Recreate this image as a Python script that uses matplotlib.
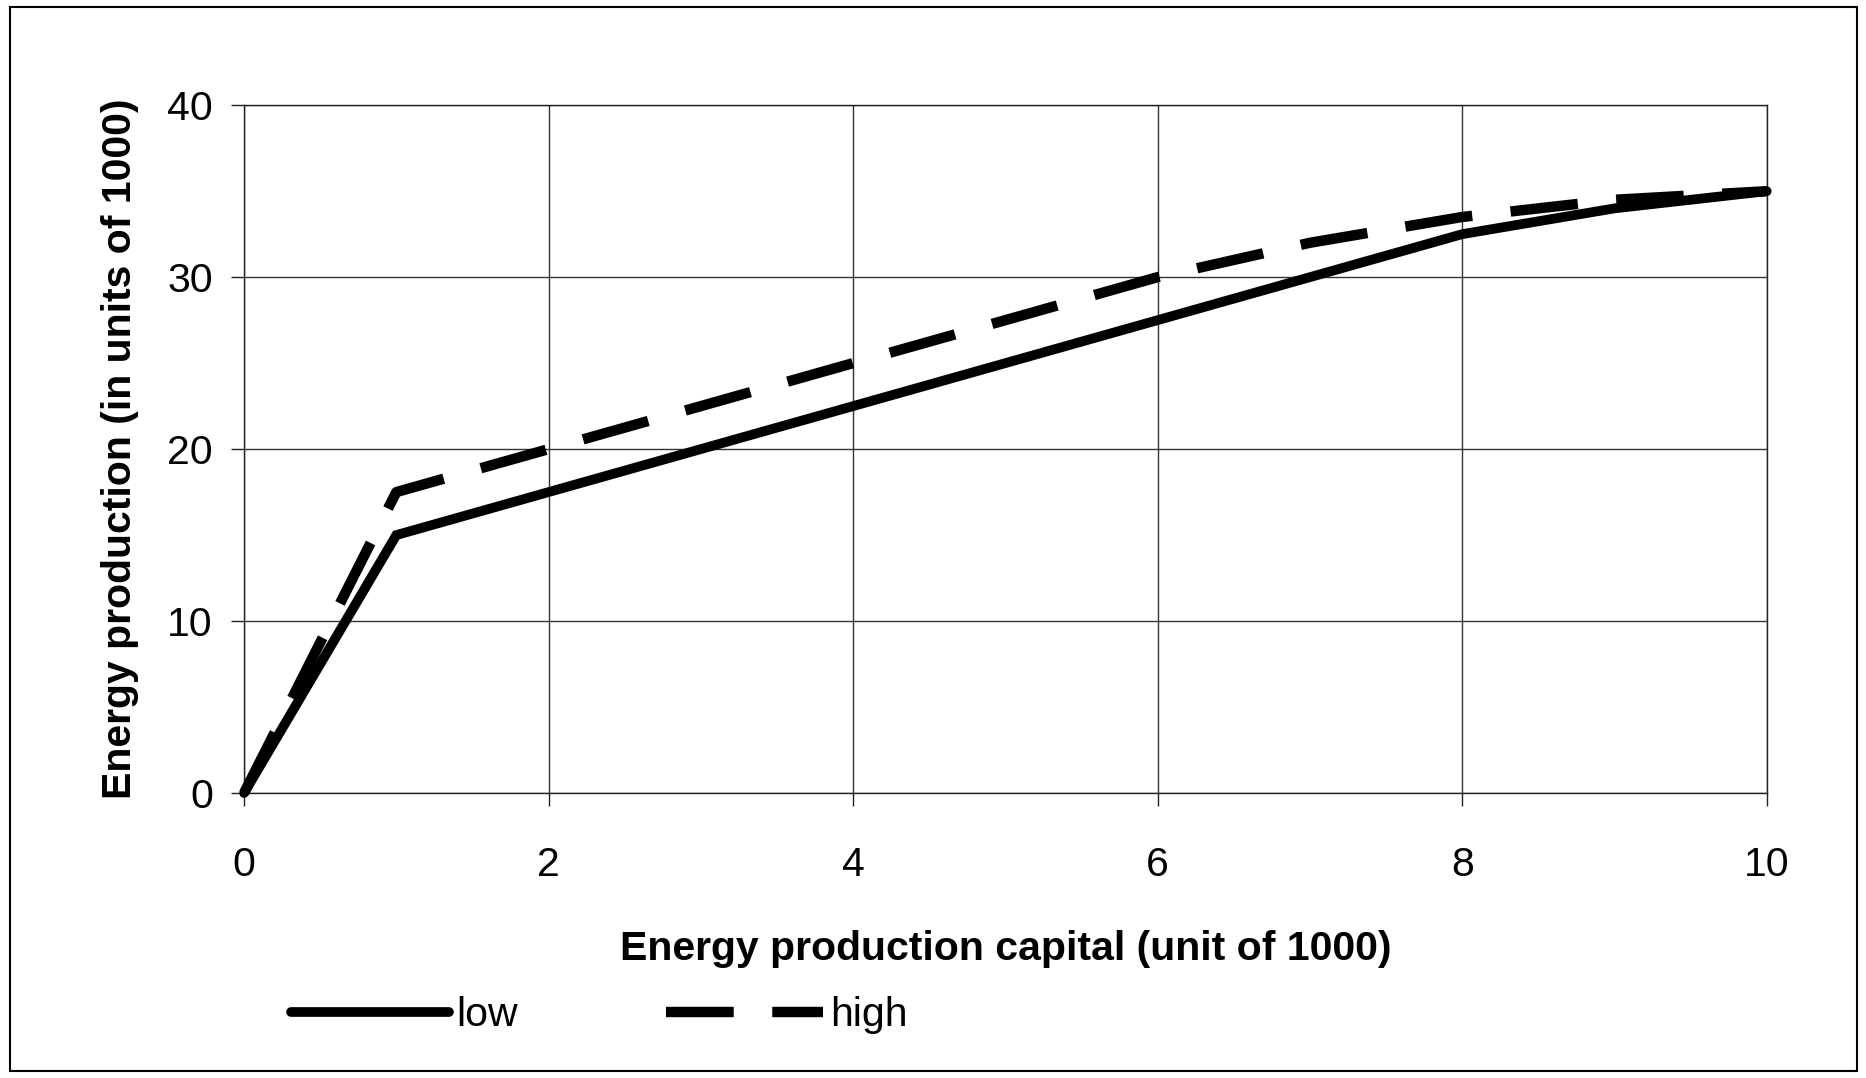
import matplotlib.pyplot as plt
from matplotlib.patches import Rectangle

plt.rcParams['font.family'] = ['Liberation Sans', 'DejaVu Sans']

capital = [0, 1, 2, 3, 4, 5, 6, 7, 8, 9, 10]
low = [0, 15, 17.5, 20, 22.5, 25, 27.5, 30, 32.5, 34, 35]
high = [0, 17.5, 20, 22.5, 25, 27.5, 30, 32, 33.5, 34.5, 35]

fig = plt.figure(figsize=(18.66, 10.78), dpi=100)
ax = fig.add_axes([0.1308, 0.2644, 0.816, 0.638])

ax.plot(capital, low, color='black', linewidth=7, solid_capstyle='round',
        solid_joinstyle='miter', label='low', clip_on=False, zorder=3)
ax.plot(capital, high, color='black', linewidth=7.5, dashes=(6.5, 3.7),
        dash_capstyle='butt', label='high', clip_on=False, zorder=3)

ax.set_xlim(0, 10)
ax.set_ylim(0, 40)
ax.set_xticks(range(0, 11, 2))
ax.set_yticks(range(0, 41, 10))
ax.grid(True, color='#333333', linewidth=1.0)
ax.set_axisbelow(True)
for s in ax.spines.values():
    s.set_linewidth(1.0)
    s.set_color('#222222')
ax.tick_params(axis='both', labelsize=29.5, length=9.5, width=1, color='#222222')
ax.tick_params(axis='x', pad=29)
ax.tick_params(axis='y', pad=13)

ax.set_xlabel('Energy production capital (unit of 1000)', fontsize=29.5,
              fontweight='bold', labelpad=33)
ax.set_ylabel('Energy production (in units of 1000)', fontsize=29.5,
              fontweight='bold', labelpad=20)

fig.legend(loc='center left', bbox_to_anchor=(0.156, 0.058), ncol=2,
           frameon=False, fontsize=29.5, handlelength=3.85, handletextpad=0.17,
           columnspacing=3.62, borderpad=0, borderaxespad=0)

# outer frame
fig.patches.append(Rectangle((0.0054, 0.0065), 0.9898, 0.987, transform=fig.transFigure,
                             fill=False, edgecolor='black', linewidth=1.5))

fig.savefig('out.png', dpi=100)
